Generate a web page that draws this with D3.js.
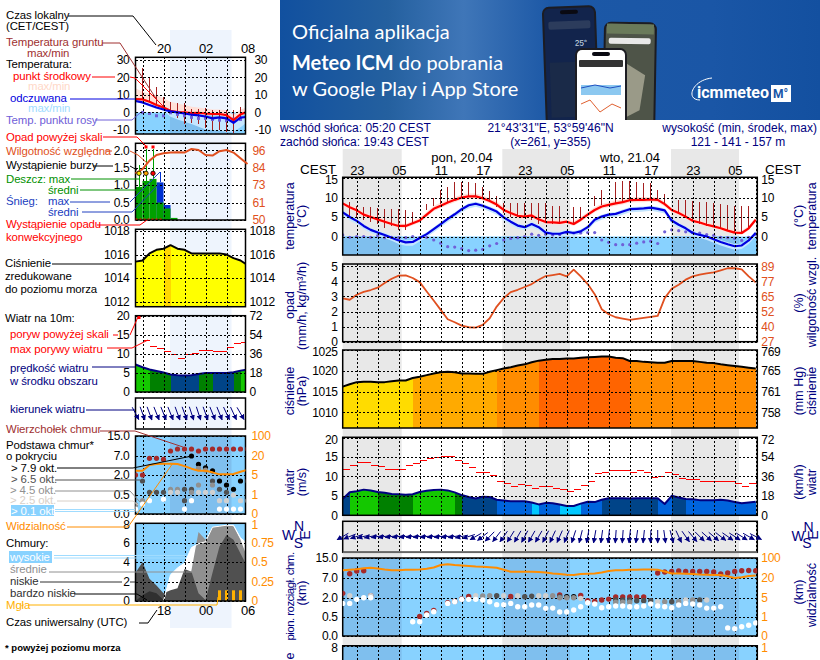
<!DOCTYPE html>
<html><head><meta charset="utf-8">
<script src="https://cdn.jsdelivr.net/npm/d3@7"></script>
<style>
html,body{margin:0;padding:0;background:#fff;overflow:hidden}
svg{display:block;font-family:"Liberation Sans",Arial,sans-serif;font-size:12px}
.tk text{font-size:12px;letter-spacing:-.3px}
</style></head><body>
<svg id="c" width="820" height="660"></svg>
<script>
// ===== main meteogram series (hourly, index 0 = 21:00 CEST) =====
const tempMid=[8.5,7.5,6.7,5.6,5,4.4,3.8,3.2,2.7,2.7,3.4,4.1,5.6,7.1,7.9,8.7,9.4,10,10.3,10.3,9.8,9.1,8.2,6.8,6,5.3,5.1,5.4,4.4,3.7,3.6,3.5,3.8,3.2,4.3,5.6,6.8,7.7,8.1,8.5,8.8,9.3,9.4,9.4,9.5,9.4,8.3,6.8,6,5.1,4,3.6,3,2.6,2.1,1.5,1,.9,2.1,4.3];
const tempHigh=[9,8.1,7.3,6.3,5.6,5,4.4,3.8,3.3,3.3,4,4.8,6.3,7.8,8.7,9.4,10.1,10.7,11,11,10.5,9.8,8.9,7.6,6.7,6,5.8,6,5.1,4.4,4.2,4.2,4.4,3.9,5,6.3,7.5,8.4,8.8,9.2,9.5,10,10.1,10.1,10.1,10,8.9,7.4,6.6,5.7,4.6,4.2,3.6,3.2,2.7,2.1,1.6,1.5,2.7,4.9];
const tempLow=[8,6.9,6.2,5.1,4.5,3.9,3.3,2.7,2.2,2.2,2.9,3.6,5,6.5,7.3,8.1,8.8,9.5,9.7,9.7,9.2,8.5,7.6,6.2,5.4,4.7,4.5,4.9,3.9,3.2,3.1,3,3.3,2.7,3.8,5,6.2,7.1,7.5,7.9,8.2,8.7,8.8,8.8,8.9,8.8,7.7,6.2,5.4,4.6,3.5,3.1,2.5,2.1,1.6,1,.5,.4,1.6,3.8];
const feelMid=[6.2,5,4,2.7,1.7,1,.4,-.3,-1,-1.5,-1.4,-.4,.6,1.9,3.2,4.5,5.7,7,8,8.4,7.9,7.2,6.4,4.9,3.8,2.8,2.4,3.2,2.4,1,.7,.7,1.2,.9,1.3,2.4,4.3,5.1,5.6,5.8,6.4,7,7.1,7.2,7.4,7.1,6.7,4.1,3,2.1,.9,.4,0,-.7,-1.4,-2,-2.5,-2.3,-1,.9];
const feelHigh=[6.7,5.5,4.5,3.2,2.2,1.5,.9,.2,-.5,-1,-.9,.1,1.1,2.4,3.7,5,6.2,7.5,8.5,8.9,8.4,7.7,6.9,5.4,4.3,3.3,2.9,3.7,2.9,1.5,1.2,1.2,1.7,1.4,1.8,2.9,4.8,5.6,6.1,6.3,6.9,7.5,7.6,7.7,7.9,7.6,7.2,4.6,3.5,2.6,1.4,.9,.5,-.2,-.9,-1.5,-2,-1.8,-.5,1.4];
const feelLow=[5.4,4.1,3.2,1.9,.9,.2,-.4,-1.1,-1.9,-2.4,-2.4,-1.3,-.2,1.1,2.4,3.7,4.9,6.2,7.2,7.6,7.1,6.4,5.6,4.1,3,2,1.6,2.4,1.6,.2,-.1,-.1,.4,.1,.5,1.6,3.5,4.3,4.8,5,5.6,6.2,6.3,6.4,6.6,6.3,5.9,3.3,2.2,1.3,.1,-.4,-.9,-1.6,-2.3,-2.9,-3.4,-3.2,-1.9,.1];
const dewPoint=[.4,-.2,0,0,-.2,.2,-.3,-.2,-.3,-.3,0,-.3,-.2,-.9,-1.7,-2.6,-2.7,-3.1,-3.6,-3.5,-3.3,-2.4,-1.8,-.9,-.5,-.3,0,.6,.3,.6,.4,.5,1,.9,.9,1,1,-.9,-1.5,-2.1,-2.1,-2.1,-1.7,-1.4,-1.2,-1.8,1.2,1.7,1.5,1.2,1,.9,.5,.3,-.2,-.3,-.5,-1,-.2,.6];
const groundMax=[null,8.9,7.9,7.5,7.5,7.3,7,7,7,6.7,6.4,null,8.4,9.8,12,12.8,13.9,13.9,13.9,13.7,12.6,11.7,10.3,8.7,8.7,8.5,8.5,8.5,8.5,8.5,7.9,7.9,null,7.5,7.5,null,10.4,12,null,14,14.3,14.3,13.9,13.7,13.7,12,10.9,null,9.4,9.4,9,8.8,8.8,8.5,8.4,8.1,7.9,7.9,7.9,null];
const groundMin=[null,4.7,4.7,4.3,3.7,3.2,2.1,2.6,1.7,1.7,3.2,null,6.7,7.7,8.4,8.7,9.4,10.1,10.4,10.4,9.8,9,7.5,6,5.1,5,5.1,4.3,3.2,3.4,3.2,3.2,null,3.4,4.3,null,7.9,8.1,null,8.5,8.9,9.4,9.4,9.4,9.5,9.4,8.1,null,6,4.7,4,3.2,2.7,2.4,1.9,1.3,.9,.9,2.1,null];
const humidity=[62.6,61.5,65.6,68,69.5,71.4,75.2,78.8,81.3,81.6,79.4,76,68.3,60.9,53.2,45.5,43,40.2,38.9,38.6,40.8,46.3,55.9,62.8,67.8,69.7,72,74.4,78,81,81.8,82.7,80.7,86.3,80.7,74.4,66.1,53.7,49.6,47.1,46,44.9,45.7,46.6,47.4,48.2,62.8,70.5,73.9,78,80.7,82.1,83.2,84,85.7,87.4,87.4,86.5,80.7,75.8];
const pressure=[1016.2,1016.8,1017.3,1017.4,1017.4,1017.3,1017.3,1017.5,1017.7,1017.7,1018.3,1018.6,1019,1019.4,1019.7,1019.8,1019.7,1019.4,1019.4,1019.3,1019.3,1019.8,1020.2,1020.6,1020.9,1021.3,1021.6,1022.1,1022.5,1022.7,1022.9,1022.9,1023,1023,1023.2,1023.3,1023.4,1023.5,1023.5,1023.2,1023.1,1022.4,1022.4,1022.2,1022.1,1022,1022,1022.4,1022.4,1022.4,1022.4,1022.2,1022,1021.9,1021.6,1021.4,1021.2,1021,1020.8,1020.6];
const pressureBreaks=[1018,1020,1022.5];
const pressureColors=["#ffdc00","#ffaa00","#ff8c00","#ff6400"];
const windSpeed=[4.2,5.9,6.2,6.6,6.4,6,5.8,5.5,5.4,5.3,5.4,6,6.3,6.5,6.6,6.4,5.9,5.2,4.7,4.3,4.8,4.7,4,3.8,3.6,3.6,3.6,3.3,2.8,3.2,3.1,2.8,2.4,2.4,3,3.5,3.4,4,4.4,4.4,4.4,4.3,4.4,4.4,4.4,4.4,2.9,5,4.6,4.2,4.1,3.9,3.9,3.9,4,3.8,3.4,3.1,3.3,3.5];
const windClass=[2,4,4,4,4,3,3,3,3,3,4,4,4,4,4,4,3,2,2,2,2,2,1,1,1,1,1,0,1,1,1,0,0,0,1,1,1,2,2,2,2,2,2,2,2,1,1,2,2,1,1,1,1,1,1,1,1,1,1,1];
const windColors=["#00c8ff","#0064dc","#004488","#008000","#14c800"];
const windGust=[11.9,12.9,13.7,13.7,12.9,12.6,11.9,11.9,11.9,12.9,13.3,14,14.7,14.8,15.2,15,14.2,13.3,12.3,11.1,10.9,10.3,8.6,8.3,7.5,8,7.6,7,7.3,7.3,7,6.7,6.2,6.7,7.6,8.8,10.7,11.1,11.4,11.4,11.4,11.1,11.4,10.9,9.8,10.1,10.9,10.6,9.4,9.1,9.1,8.8,8.8,8.8,8.8,8.8,8.2,7.5,8.1,8.1];
const windDir=[60,68,72,76,78,80,80,81,81,82,82,82,82,82,82,82,80,78,72,60,52,44,38,35,32,30,28,30,30,27,25,24,22,18,14,10,10,8,6,4,4,6,8,6,2,0,352,345,335,325,320,315,312,310,308,305,303,302,300,297];
const visibility=[51,53,55,59,61,58,54,51,51,53,53,54,57,62,72,75,72,70,68,66,65,63,61,53,45,45,45,45,44,42,38,36,33,32,36,37,38,42,48,51,51,53,53,54,54,53,46,38,38,37,36,34,33,32,32,27,20,23,28,30];
const baseTop=[[0,3.1],[1,8.7],[2,9.8],[3,9.9],[4,2.5],[11,.52],[12,.75],[13,1],[15,1.6],[16,1.7],[17,1.9],[18,2.3],[24,2.3],[31,2.7],[34,2.6],[35,1.76],[36,1.71],[37,1.82],[38,1.89],[39,2.2],[40,2.2],[41,2.2],[42,2.2],[43,2.2],[45,9],[46,9.4],[47,9.6],[48,9.8],[49,9.6],[50,9.6],[51,9.6],[52,9.6],[53,9.4],[54,8.6],[55,9],[56,9.6],[57,9.9],[58,10],[59,9.9]];
const baseBlack=[[32,2.25],[33,2.25]];
const baseDark=[[22,2.5],[26,2.25],[27,2.4],[31,2.25],[39,1.82],[40,1.82],[41,1.82],[42,1.76],[43,1.76],[44,1.76],[47,1.68],[51,1.82]];
const baseMid=[[20,2.45],[21,2.5],[30,2.5],[31,2],[32,2],[33,2],[39,1.65],[40,1.65],[41,1.65],[46,1.68],[48,1.68],[50,1.82]];
const baseLight=[[1,2.5],[4,2.5],[19,2.5],[23,2.5],[25,2.5],[28,2.5],[29,2.5],[34,1.95],[45,1.68],[49,1.82],[52,1.82]];
const baseWhite=[[0,1.55],[1,1.55],[2,1.87],[3,2],[4,2],[10,.37],[11,.37],[12,.63],[13,.89],[15,1.55],[16,1.68],[17,1.87],[18,1.87],[19,1.87],[20,1.82],[21,1.68],[22,1.45],[23,1.45],[24,1.55],[25,1.29],[26,1.29],[27,1.42],[28,1.42],[29,1.16],[30,1.18],[31,.87],[32,.87],[33,1.03],[34,1.29],[35,1.6],[36,1.5],[37,1.21],[38,1.29],[39,1.34],[40,1.34],[41,1.29],[42,1.29],[43,1.34],[44,1.5],[45,1.34],[46,1.29],[47,1.21],[48,1.42],[49,1.55],[50,1.5],[51,1.42],[52,1.18],[53,1.18],[54,1.29],[55,.21],[56,.19],[57,.24],[58,.28],[59,.34]];
const mainHourTicks=[2,8,14,20,26,32,38,44,50,56];
const mainHourLabels=["23","05","11","17","23","05","11","17","23","05"];
const baseKm=[0,.5,2,7,15];
const visKm=[0,1,5,20,100];
// ===== legend meteogram series (hourly, index 0 = 16:00 local) =====
const lTemp=[7.6,7.4,6.1,4.2,2.8,.9,.2,0,-.4,-.2,-.6,-.9,-.9,-1.5,-4.4,-1.1,.4];
const lTempHigh=[13.7,11.8,10.8,9.9,8,6.1,5.1,4.2,3.2,2.8,2.3,1.7,1.7,1.3,-1.5,1.7,3];
const lTempLow=[6.8,6.5,5.2,3.3,1.8,0,-.7,-.9,-1.3,-1.1,-1.5,-1.8,-1.8,-2.4,-5.3,-2,-.5];
const lFeel=[6.5,5.7,4.2,2.8,1.7,.6,0,-.6,-1.3,-1.7,-2.3,-3.4,-2.8,-3.4,-5.9,-3,-2.5];
const lFeelHigh=[7,6.3,4.8,3.4,2.3,1,.4,-.2,-.8,-1.1,-1.7,-2.8,-2.2,-2.8,-5.3,-2.4,-1.9];
const lFeelLow=[6,5,3.4,2,.9,-2.5,-4,-5.3,-6.6,-8.2,-9.7,-10,-10.4,-11,-11,-8.5,-5.3];
const lDew=[null,0,-.6,-1.9,-1.9,-.2,-1.1,-1.9,-2.8,-3.4,-3.4,-4,-4.4,-4.7,-3.8,-4,null];
const lGroundMax=[null,25,19.4,14.6,8.9,6.1,5.1,5.1,1.7,1.7,2.3,1.3,1.3,1.3,1.3,3.2,null];
const lGroundMin=[null,7,6,4.2,1.3,-.6,-3.4,-6.6,-6.3,-6.6,-9,-10,-10,-11,-11.6,-3.4,null];
const lHumidity=[80.8,83.5,89.2,92.9,94,94.5,94.7,94.5,96.9,96.2,92.9,92.5,95.4,96.2,94.5,90.7,87];
const lRain=[.95,1.12,1.18,.5,.33,.06];
const lSnowTop=[0,0,0,1.08,.43,0];
const lRainMax=[1.58,2.05,2.05];
const lSnowMax=[[3,1.39]];
const lOverScale=[1,2];
const lThunder=["#ffe600","#ffa500","#ff0000"];
const lPressure=[1015.4,1015.5,1016.1,1016.4,1016.5,1016.8,1016.5,1016.4,1016.1,1016.1,1016.1,1016.1,1016.1,1016,1015.7,1015.5,1015.1];
const lWind=[7.2,6.5,5.9,5.5,5.1,4.6,4.4,4.3,4.4,4.7,5,5,5,5,5.2,5.6,5.9];
const lWindClass=[4,4,3,3,3,2,2,2,2,3,3,2,2,2,3,4];
const lGust=[null,13.6,11.8,11.5,10.7,9.7,8.9,9.9,10.1,10.9,10.9,10.7,10.7,11.7,12.8,13];
const lWindDir=[332,340,340,338,338,338,340,340,342,342,340,338,338,335,335,330];
const lVis=[8.4,8.4,12.9,13.7,13.9,13.9,13.7,12,10,8.4,8.4,7.1,5.5,5.5,5.8,7.6,9];
const lTop=[[0,2],[1,2],[2,6.4],[3,6.4],[4,6.1],[5,9],[6,9.8],[7,9.8],[8,9.8],[9,9],[10,9.8],[11,9.8],[12,9.8],[13,9.8],[14,9.8],[15,9.8],[16,9.8]];
const lBlack=[[8,7],[9,4.8],[10,3.9],[11,3.1],[12,1.55],[13,1.25],[14,.93],[15,1.55]];
const lDark=[[1,1.55],[2,.7],[3,.7],[4,.7],[7,.93],[8,.93],[7,.35],[12,.93],[13,.7],[11,1.55],[16,1.55]];
const lMid=[[0,.24],[1,.35],[5,.93],[6,.93],[9,1.25],[8,.7],[11,1.25],[10,3.3],[9,3.75]];
const lLight=[[5,.7],[6,.7],[9,.7],[10,.7],[11,.7],[12,.35],[13,.35],[14,.5],[15,.35],[16,.35]];
const lWhite=[[0,.13],[1,.26],[2,.35],[4,.39],[7,.13],[8,.35],[12,.13],[13,.13],[14,.13],[15,.13]];
const lCloudHigh=[0,0,0,0,0,2.7,3.4,3.9,5.5,5.9,6.1,7.6,7.7,7.8,7.8,6.5,5.9];
const lCloudMid=[0,0,0,0,0,0,0,0,3.2,7.1,6.3,7.6,7.7,7.8,7.7,6.3,4.4];
const lCloudLow=[2.9,4,2.3,1.6,.8,1.1,1.3,3.3,3,.8,.1,2.9,5.6,6.8,6.3,4.9,3.5];
const lCloudVeryLow=[0,.6,1,.8,.1,0,0,0,0,0,0,0,0,0,0,0,0];
const lFog=[[12,1.1],[13,1.1],[14,1.1],[15,1.1]];
const navy="#000080",hum="#e05020",orange="#ff8c00";
const sky="#88d2ff",skyNight="#7fbfee";

const svg=d3.select("#c");
const defs=svg.append("defs");
const grad=defs.append("linearGradient").attr("id","bn");
[[0,"#11509f"],[.2,"#24609f"],[.34,"#3f76b8"],[.5,"#1c58a6"],[.8,"#1a56a6"],[1,"#1350a0"]].forEach(s=>grad.append("stop").attr("offset",s[0]).attr("stop-color",s[1]));
const mk=defs.append("marker").attr("id","ah").attr("markerUnits","userSpaceOnUse").attr("viewBox","0 0 10 10").attr("refX",9).attr("refY",5).attr("markerWidth",5.5).attr("markerHeight",5.5).attr("orient","auto");
mk.append("path").attr("d","M0,0L10,5L0,10Z").attr("fill",navy);

// ----- background day/night -----
const xM=d3.scaleLinear([0,60],[342.7,762.7]);
const xL=d3.scaleLinear([0,16],[135.5,247.5]);
const mainNight=[[342.7,401.7],[502.3,570],[671,739]];
const legendNight=[[170,231.5]];
svg.selectAll(".nm").data(mainNight).join("rect").attr("x",d=>d[0]).attr("width",d=>d[1]-d[0]).attr("y",149).attr("height",511).attr("fill","#e8e8e8");
svg.selectAll(".nl").data(legendNight).join("rect").attr("x",d=>d[0]).attr("width",d=>d[1]-d[0]).attr("y",30).attr("height",598).attr("fill","#eef4fd");

// ----- helpers -----
function clipped(id,x0,x1,y0,y1){
  defs.append("clipPath").attr("id",id).append("rect").attr("x",x0).attr("y",y0).attr("width",x1-x0).attr("height",y1-y0);
  return svg.append("g").attr("clip-path",`url(#${id})`);
}
const line=(x,y)=>d3.line().defined(d=>d!=null).x((d,i)=>x(i)).y(d=>y(d));
function band(g,x,y,hi,lo,fill){
  g.append("path").attr("d",d3.area().x((d,i)=>x(i)).y0((d,i)=>y(lo[i])).y1(d=>y(d))(hi)).attr("fill",fill);
}
function cols(g,x,y,vals,color,base){
  for(let i=0;i<vals.length-1;i++){
    const pts=[[i,vals[i]],[i+1,vals[i+1]]];
    g.append("path").attr("d",d3.area().x(d=>x(d[0])).y0(base).y1(d=>y(d[1]))(pts)).attr("fill",color(i,vals)).attr("shape-rendering","crispEdges");
  }
}
function hbar(g,x,y,i,v,c){
  g.append("line").attr("x1",x(i)).attr("x2",x(i+1)).attr("y1",y(v)).attr("y2",y(v)).attr("stroke",c).attr("stroke-width",1).attr("shape-rendering","crispEdges");
}
function vbar(g,x,y,i,a,b,c){
  g.append("line").attr("x1",x(i)).attr("x2",x(i)).attr("y1",y(a)).attr("y2",y(b)).attr("stroke",c).attr("stroke-width",1).attr("shape-rendering","crispEdges");
}
function frame(o){
  const {x0,x1,y0,y1,y,ticks,fmt,right,rightColor,leftColor,gridX,x,padL,padR}=o;
  const w=x1-x0,h=y1-y0;
  const shift=o.topShift||0;
  if(ticks.length){
    const gg=svg.append("g").attr("transform",`translate(${x0},0)`).call(d3.axisLeft(y).tickValues(ticks.filter(t=>y(t)>=y0-1&&y(t)<=y1+1)).tickSize(-w).tickFormat(""));
    gg.select(".domain").remove();
    gg.selectAll("line").attr("stroke","#000").attr("stroke-dasharray","2,2").attr("shape-rendering","crispEdges");
  }
  const cid="v"+Math.round(x0)+"_"+Math.round(y0);
  const vg=clipped(cid,x0,x1,y0,y1).append("g").attr("transform",`translate(0,${y0})`).call(d3.axisTop(x).tickValues(gridX).tickSize(-(h)).tickFormat(""));
  vg.select(".domain").remove();
  vg.selectAll("line").attr("stroke","#000").attr("stroke-dasharray","2,2").attr("shape-rendering","crispEdges");
  if(o.open) svg.append("path").attr("d",`M${x0},660V${y0}H${x1}V660`).attr("fill","none").attr("stroke","#000").attr("stroke-width",1.5);
  else svg.append("rect").attr("x",x0).attr("y",y0).attr("width",w).attr("height",h).attr("fill","none").attr("stroke","#000").attr("stroke-width",1.5);
  if(ticks.length){
    const a=svg.append("g").attr("class","tk").attr("transform",`translate(${x0},0)`).call(d3.axisLeft(y).tickValues(ticks).tickSize(0).tickPadding(padL).tickFormat(fmt||(d=>d)));
    a.select(".domain").remove(); a.selectAll("text").attr("fill",leftColor||"#000").attr("font-family",'"Liberation Sans"');
    const b=svg.append("g").attr("class","tk").attr("transform",`translate(${x1},0)`).call(d3.axisRight(y).tickValues(ticks).tickSize(0).tickPadding(padR).tickFormat((d,i)=>right[i]));
    b.select(".domain").remove(); b.selectAll("text").attr("fill",rightColor||"#000").attr("font-family",'"Liberation Sans"');
    if(shift) [a,b].forEach(s=>s.selectAll("text").filter((d,i)=>i===0).attr("y",shift));
  }
}
const night=(g,bands,y0,y1)=>g.selectAll(null).data(bands).join("rect").attr("x",d=>d[0]).attr("width",d=>d[1]-d[0]).attr("y",y0).attr("height",y1-y0).attr("fill",skyNight);
function arrows(g,x,vals,cy,len){
  g.selectAll(null).data(vals).join("line")
    .attr("x1",(d,i)=>x(i)+len/2*Math.sin(d*Math.PI/180)).attr("y1",d=>cy-len/2*Math.cos(d*Math.PI/180))
    .attr("x2",(d,i)=>x(i)-len/2*Math.sin(d*Math.PI/180)).attr("y2",d=>cy+len/2*Math.cos(d*Math.PI/180))
    .attr("stroke",navy).attr("stroke-width",1).attr("marker-end","url(#ah)");
}
function dots(g,x,y,data,color,r){
  g.selectAll(null).data(data).join("circle").attr("cx",d=>x(d[0])).attr("cy",d=>y(d[1])).attr("r",r).attr("fill",color);
}
function stroke(g,d,c,w){g.append("path").attr("d",d).attr("fill","none").attr("stroke",c).attr("stroke-width",w).attr("stroke-linejoin","round");}
function temperature(g,x,y,hi,lo,fh,fl,y1,x1,nightBands){
  g.append("rect").attr("x",x(0)).attr("width",x1-x(0)).attr("y",y(0)).attr("height",y1-y(0)).attr("fill",sky);
  night(g.append("g"),nightBands,y(0),y1);
  band(g,x,y,hi,lo,"#ffe0d8");
  band(g,x,y,fh,fl,"#c4e6ff");
}
const vgM=d3.range(2,60,3), vgL=d3.range(1,17,3);
const x1M=757.3, x1L=245.5;

// ===== MAIN: temperature =====
{
 const y=d3.scaleLinear([-5,15],[256,178]);
 const g=clipped("m1",342.7,x1M,177.3,255);
 temperature(g,xM,y,tempHigh,tempLow,feelHigh,feelLow,255,x1M,mainNight);
 groundMax.forEach((v,i)=>{ if(v!=null) vbar(g,xM,y,i,v,groundMin[i],"#a52020"); });
 dots(g,xM,y,dewPoint.map((d,i)=>[i,d]),"#7060d8",1.6);
 stroke(g,line(xM,y)(tempMid),"#f00",2.2);
 stroke(g,line(xM,y)(feelMid),"#0000e0",2.2);
 frame({x0:342.7,x1:x1M,y0:177.3,y1:255,y,ticks:[15,10,5,0],right:["15","10","5","0"],gridX:vgM,x:xM,padL:5,padR:4,topShift:2});
}
// ===== MAIN: humidity =====
{
 const yl=d3.scaleLinear([0,5],[341.7,266.3]);
 const yr=d3.scaleLinear([27,89],[341.7,266.3]);
 const g=clipped("m2",342.7,x1M,264,341.7);
 stroke(g,line(xM,yr)(humidity),hum,1.8);
 frame({x0:342.7,x1:x1M,y0:264,y1:341.7,y:yl,ticks:[5,4,3,2,1,0],right:["89","77","65","52","40","27"],rightColor:hum,gridX:vgM,x:xM,padL:5,padR:4});
}
// ===== MAIN: pressure =====
{
 const y=d3.scaleLinear([1010,1025],[412.3,350.3]);
 const col=d3.scaleThreshold(pressureBreaks,pressureColors);
 const g=clipped("m3",342.7,x1M,350,428);
 cols(g,xM,y,pressure,(i,v)=>col(v[i]),428);
 stroke(g,line(xM,y)(pressure),"#000",2);
 frame({x0:342.7,x1:x1M,y0:350,y1:428,y,ticks:[1025,1020,1015,1010],right:["769","765","761","758"],gridX:vgM,x:xM,padL:5,padR:4,topShift:1.5});
}
// ===== MAIN: wind =====
{
 const y=d3.scaleLinear([0,20],[515.3,437.5]);
 const g=clipped("m4",342.7,x1M,437.3,515.3);
 cols(g,xM,y,windSpeed,(i)=>windColors[windClass[i]],515.3);
 stroke(g,line(xM,y)(windSpeed),navy,2);
 windGust.forEach((v,i)=>hbar(g,xM,y,i,v,"#f00"));
 frame({x0:342.7,x1:x1M,y0:437.3,y1:515.3,y,ticks:[20,15,10,5,0],right:["72","54","36","18","0"],gridX:vgM,x:xM,padL:5,padR:4,topShift:2});
}
// ===== MAIN: direction =====
{
 frame({x0:342.7,x1:x1M,y0:521.3,y1:552.3,y:d3.scaleLinear(),ticks:[],right:[],gridX:vgM,x:xM});
 arrows(svg.append("g"),xM,windDir,536.5,13);
 svg.append("rect").attr("x",342.7).attr("y",551.5).attr("width",x1M-342.7).attr("height",1.5).attr("fill","#666");
}
// ===== MAIN: cloud base =====
{
 const y=d3.scaleLinear(baseKm,[636,616.7,597.7,578,558]);
 const yv=d3.scaleLinear(visKm,[636,616.7,597.7,578,558]);
 const g=clipped("m5",342.7,x1M,558,636);
 g.append("rect").attr("x",342.7).attr("y",558).attr("width",415).attr("height",78).attr("fill",sky);
 night(g.append("g"),mainNight,558,636);
 frame({x0:342.7,x1:x1M,y0:558,y1:636,y,ticks:[15,7,2,.5,0],fmt:d3.format(".1f"),right:["100","20","5","1","0"],rightColor:orange,gridX:vgM,x:xM,padL:5,padR:4});
 const t=svg.append("g").attr("clip-path","url(#m5)");
 dots(t,xM,y,baseTop,"#a52a2a",2.7);
 dots(t,xM,y,baseBlack,"#000",2.7);
 dots(t,xM,y,baseDark,"#505050",2.7);
 dots(t,xM,y,baseMid,"#909090",2.7);
 dots(t,xM,y,baseLight,"#d0d0d0",2.7);
 dots(t,xM,y,baseWhite,"#fff",2.7);
 stroke(t,line(xM,yv)(visibility),orange,2);
}
// ===== MAIN: clouds (cut by the window) =====
{
 const y=d3.scaleLinear([0,8],[723,645.7]);
 const g=clipped("m6",342.7,x1M,645.7,660);
 g.append("rect").attr("x",342.7).attr("y",645.7).attr("width",415).attr("height",15).attr("fill",sky);
 night(g.append("g"),mainNight,645.7,660);
 frame({x0:342.7,x1:x1M,y0:645.7,y1:723,y,ticks:[8],right:["1"],rightColor:orange,gridX:vgM,x:xM,padL:5,padR:4,open:true,topShift:2});
}

// ===== LEGEND: temperature =====
{
 const y=d3.scaleLinear([-10,30],[130,59.7]);
 const g=clipped("l1",135.5,x1L,57.3,134);
 temperature(g,xL,y,lTempHigh,lTempLow,lFeelHigh,lFeelLow,134,x1L,legendNight);
 lGroundMax.forEach((v,i)=>{ if(v!=null) vbar(g,xL,y,i,v,lGroundMin[i],"#a52020"); });
 g.selectAll(null).data(lDew.map((d,i)=>[i,d]).filter(d=>d[1]!=null)).join("rect").attr("x",d=>xL(d[0])-1.5).attr("y",d=>y(d[1])-1.5).attr("width",3).attr("height",3).attr("fill","#7060d8");
 stroke(g,line(xL,y)(lTemp),"#f00",2.2);
 stroke(g,line(xL,y)(lFeel),"#0000e0",2.2);
 frame({x0:135.5,x1:x1L,y0:57.3,y1:134,y,ticks:[30,20,10,0,-10],right:["30","20","10","0","-10"],gridX:vgL,x:xL,padL:6,padR:9});
}
// ===== LEGEND: rain =====
{
 const y=d3.scaleLinear([0,2],[220,150.3]);
 const yh=d3.scaleLinear([50,96],[220,150.3]);
 const g=clipped("l2",135.5,x1L,143.3,220);
 lSnowTop.forEach((v,i)=>{ if(v>0) g.append("rect").attr("x",xL(i)).attr("width",xL(i+1)-xL(i)).attr("y",y(v)).attr("height",y(0)-y(v)).attr("fill","#0030d0"); });
 lRain.forEach((v,i)=>g.append("rect").attr("x",xL(i)).attr("width",xL(i+1)-xL(i)).attr("y",y(v)).attr("height",y(0)-y(v)).attr("fill","#00a000"));
 frame({x0:135.5,x1:x1L,y0:143.3,y1:220,y,ticks:[2,1.5,1,.5,0],fmt:d3.format(".1f"),right:["96","84","73","61","50"],rightColor:hum,gridX:vgL,x:xL,padL:6,padR:7});
 const t=svg.append("g");
 lRainMax.forEach((v,i)=>t.append("line").attr("x1",xL(i+.5)).attr("x2",xL(i+.5)).attr("y1",y(v)).attr("y2",y(lRain[i])).attr("stroke","#00a000").attr("shape-rendering","crispEdges"));
 lSnowMax.forEach(d=>t.append("line").attr("x1",xL(d[0]+.5)).attr("x2",xL(d[0]+.5)).attr("y1",y(d[1])).attr("y2",y(lSnowTop[d[0]])).attr("stroke","#0030d0").attr("shape-rendering","crispEdges"));
 stroke(t,line(xL,yh)(lHumidity),hum,2);
 lOverScale.forEach(i=>t.append("rect").attr("x",xL(i+.5)-1.5).attr("y",145.5).attr("width",3).attr("height",3).attr("fill","#f00"));
 lThunder.forEach((c,i)=>t.append("circle").attr("cx",xL(i+.5)).attr("cy",y(1.34)).attr("r",2.2).attr("fill",c).attr("stroke","#000").attr("stroke-width",.8));
 t.append("line").attr("x1",xL(0)).attr("x2",xL(4)).attr("y1",219).attr("y2",219).attr("stroke","#f00").attr("stroke-dasharray","2,2").attr("stroke-width",1);
}
// ===== LEGEND: pressure =====
{
 const y=d3.scaleLinear([1012,1018],[301.7,231]);
 const col=d3.scaleThreshold([1016.7],["#ffff00","#ffd800"]);
 const g=clipped("l3",135.5,x1L,229.3,306.7);
 cols(g,xL,y,lPressure,(i,v)=>col(v[i+1]),306.7);
 stroke(g,line(xL,y)(lPressure),"#000",2);
 frame({x0:135.5,x1:x1L,y0:229.3,y1:306.7,y,ticks:[1018,1016,1014,1012],right:["1018","1016","1014","1012"],gridX:vgL,x:xL,padL:6,padR:4});
}
// ===== LEGEND: wind =====
{
 const y=d3.scaleLinear([0,20],[392,315.7]);
 const g=clipped("l4",135.5,x1L,315.7,392);
 cols(g,xL,y,lWind,(i)=>windColors[lWindClass[i]],392);
 stroke(g,line(xL,y)(lWind),navy,2);
 lGust.forEach((v,i)=>{ if(v!=null) hbar(g,xL,y,i,v,"#f00"); });
 frame({x0:135.5,x1:x1L,y0:315.7,y1:392,y,ticks:[20,15,10,5,0],right:["72","54","36","18","0"],gridX:vgL,x:xL,padL:6,padR:4});
 svg.append("rect").attr("x",137.5).attr("y",316).attr("width",3).attr("height",3).attr("fill","#f00");
}
// ===== LEGEND: direction =====
{
 frame({x0:135.5,x1:x1L,y0:398,y1:429,y:d3.scaleLinear(),ticks:[],right:[],gridX:vgL,x:xL});
 arrows(svg.append("g"),xL,lWindDir,413.4,14);
}
// ===== LEGEND: cloud base =====
{
 const y=d3.scaleLinear(baseKm,[514,495,475,456,436]);
 const yv=d3.scaleLinear(visKm,[514,495,475,456,436]);
 const g=clipped("l5",135.5,x1L,436,514);
 g.append("rect").attr("x",135.5).attr("y",436).attr("width",110).attr("height",78).attr("fill",sky);
 night(g.append("g"),legendNight,436,514);
 frame({x0:135.5,x1:x1L,y0:436,y1:514,y,ticks:[15,7,2,.5,0],fmt:d3.format(".1f"),right:["100","20","5","1","0"],rightColor:orange,gridX:vgL,x:xL,padL:6,padR:6});
 const t=svg.append("g").attr("clip-path","url(#l5)");
 dots(t,xL,y,lTop,"#a52a2a",2.6);
 dots(t,xL,y,lBlack,"#000",2.6);
 dots(t,xL,y,lDark,"#505050",2.6);
 dots(t,xL,y,lMid,"#909090",2.6);
 dots(t,xL,y,lLight,"#d0d0d0",2.6);
 dots(t,xL,y,lWhite,"#fff",2.6);
 stroke(t,line(xL,yv)(lVis),orange,2);
}
// ===== LEGEND: clouds =====
{
 const y=d3.scaleLinear([0,8],[601,523.3]);
 const g=clipped("l6",135.5,x1L,523.3,601);
 g.append("rect").attr("x",135.5).attr("y",523.3).attr("width",110).attr("height",78).attr("fill",sky);
 const ar=d3.area().x((d,i)=>xL(i)).y0(601).y1(d=>y(d));
 g.append("path").attr("d",ar(lCloudHigh)).attr("fill","#fff");
 g.append("path").attr("d",ar(lCloudMid)).attr("fill","#909090");
 g.append("path").attr("d",ar(lCloudLow)).attr("fill","#505050");
 g.append("path").attr("d",ar(lCloudVeryLow)).attr("fill","#303030");
 stroke(g,line(xL,y)(lCloudHigh),"#fff",1);
 g.selectAll(null).data(lFog).join("rect").attr("x",d=>xL(d[0])-1.5).attr("width",3).attr("y",d=>y(d[1])).attr("height",d=>601-y(d[1])).attr("fill","#ffb000");
 frame({x0:135.5,x1:x1L,y0:523.3,y1:601,y,ticks:[8,6,4,2,0],right:["1","0.75","0.5","0.25","0"],rightColor:orange,gridX:vgL,x:xL,padL:6,padR:6,topShift:1.5});
}
// ----- time labels -----
function hourAxis(x,yPos,vals,labels){
  const a=svg.append("g").attr("class","tk").attr("transform",`translate(0,${yPos})`).call(d3.axisTop(x).tickValues(vals).tickSize(0).tickPadding(0).tickFormat((d,i)=>labels[i]));
  a.select(".domain").remove();
  a.selectAll("text").attr("fill","#000").style("font-size","13px");
}
hourAxis(xM,175,mainHourTicks,mainHourLabels);
hourAxis(xL,53,[4,10,16],["20","02","08"]);
hourAxis(xL,615,[4,10,16],["18","00","06"]);

// ----- texts -----
function T(s,x,y,c,o={}){
  const t=svg.append("text").text(s).attr("x",x).attr("y",y).attr("dy",".35em").attr("fill",c);
  if(o.a) t.attr("text-anchor",o.a);
  if(o.s) t.style("font-size",o.s+"px");
  if(o.w) t.attr("font-weight",o.w);
  if(o.ls) t.style("letter-spacing",o.ls+"px");
  if(o.rot) t.attr("transform",`rotate(-90 ${x} ${y})`);
  return t;
}
const brown="#a03030",slate="#7060d8",green="#009000",snow="#2040c0",red="#f00";
const legendText=[
["Czas lokalny",6,15,"#000"],["(CET/CEST)",6,26,"#000"],
["Temperatura gruntu",6,42,brown],["max/min",27,53,brown],["Temperatura:",6,64,"#000"],
["punkt środkowy",13,76,red],["max/min",28,86,"#ffd8c8"],["odczuwana",10,98,"#0000e0"],["max/min",28,108,"#a0dcff"],
["Temp. punktu rosy",6,120,slate],["Opad powyżej skali",6,137,red],["Wilgotność względna",6,151,hum],
["Wystąpienie burzy",6,165,"#000"],["Deszcz: max",6,179,green],["średni",48,190,green],["Śnieg:",6,201,snow],["max",48,201,snow],["średni",48,212,snow],
["Wystąpienie opadu",6,224,red],["konwekcyjnego",6,237,red],
["Ciśnienie",5,263,"#000"],["zredukowane",5,276,"#000"],["do poziomu morza",5,289,"#000"],
["Wiatr na 10m:",5,318,"#000"],["poryw powyżej skali",10,334,red],["max porywy wiatru",10,349,red],
["prędkość wiatru",10,368,navy],["w środku obszaru",10,381,navy],["kierunek wiatru",10,409,navy],
["Wierzchołek chmur",6,429,brown],["Podstawa chmur*",6,445,"#000"],["o pokryciu",6,456,"#000"],
["> 7.9 okt.",11,468,"#000"],["> 6.5 okt.",11,479,"#505050"],["> 4.5 okt.",10,490,"#909090"],["> 2.5 okt.",10,500,"#d8d0c8"]
];
const legendText2=[
["Widzialność",6,526,orange],["Chmury:",6,543,"#000"],["średnie",10,569,"#909090"],["niskie",10,581,"#303030"],["bardzo niskie",10,593,"#303030"],["Mgła",6,605,"#ffb000"],["Czas uniwersalny (UTC)",6,622,"#000"]
];
const leaders=[
["#000",[[68,16],[133,16],[156,45]]],
[brown,[[102,43],[120,43],[157,100]]],
[red,[[92,77],[115,77]]],[red,[[130,77],[135,78],[167,110]]],
["#0000e0",[[70,99],[135,99]]],
[slate,[[95,120],[132,120],[140,113]]],
[red,[[103,137],[137,137],[147,147]]],
[hum,[[105,151],[112,151]]],[hum,[[130,151],[138,155],[147,163]]],
["#000",[[93,166],[113,166]]],["#000",[[130,166],[137,170]]],
[green,[[71,179],[140,179]]],[green,[[80,190],[143,190]]],
[snow,[[70,202],[110,202]]],[snow,[[130,202],[160,172]]],
[snow,[[82,212],[132,212],[160,183]]],
[red,[[97,225],[140,225],[147,220]]],
["#000",[[52,264],[132,264]]],
[red,[[113,335],[118,335]]],[red,[[130,335],[138,317]]],
[red,[[107,348],[132,348],[148,340]]],
[navy,[[92,367],[135,367]]],[navy,[[86,410],[135,410]]],
[brown,[[100,431],[135,431],[183,447]]],
["#000",[[57,468],[133,468],[192,456]]],
["#505050",[[55,480],[140,480]]],
["#909090",[[55,491],[130,491],[140,502]]],
["#d8d0c8",[[57,501],[133,501],[138,505]]],
["#a0dcff",[[55,509.5],[135,509.5]]],["#a0dcff",[[55,511.5],[135,511.5]]],
[orange,[[67,527],[128,527],[173,463]]],
["#a0dcff",[[54,555.5],[186,555.5]]],["#a0dcff",[[54,558],[186,558]]],
["#909090",[[49,572],[193,572]]],
["#303030",[[40,582],[122,582]]],["#303030",[[130,582],[135,582]]],
["#000",[[74,594],[137,594],[147,600]]],
["#ffb000",[[28,605],[217,605],[218,597]]],
["#000",[[139,623],[148,623],[157,610]]]
];
const lg=d3.line();
leaders.forEach(l=>svg.append("path").attr("d",lg(l[1])).attr("fill","none").attr("stroke",l[0]).attr("stroke-width",1));
const legendOpts={s:11.4,ls:-.1};
legendText.concat(legendText2).forEach(d=>T(d[0],d[1],d[2],d[3],legendOpts));
svg.append("rect").attr("x",11).attr("y",505).attr("width",43).attr("height",11).attr("fill","#88d2ff");
T("> 0.1 okt.",11,511,"#fff",legendOpts);
svg.append("rect").attr("x",9).attr("y",551).attr("width",43).attr("height",12).attr("fill","#88d2ff");
T("wysokie",10,557,"#fff",legendOpts);
T("* powyżej poziomu morza",5,648,"#000",{s:9.5,w:"bold"});

// ----- header / axis titles -----
T("wschód słońca: 05:20 CEST",280,128,navy);
T("zachód słońca: 19:43 CEST",280,142,navy);
T("21°43'31\"E, 53°59'46\"N",550.5,128,navy,{a:"middle"});
T("(x=261, y=355)",550.5,142,navy,{a:"middle"});
T("wysokość (min, środek, max)",817,128,navy,{a:"end"});
T("121 - 141 - 157 m",738,142,navy,{a:"middle"});
T("pon, 20.04",462,157,"#000",{a:"middle",s:13});
T("wto, 21.04",630,157,"#000",{a:"middle",s:13});
T("CEST",336,169,"#000",{a:"end",s:13.5});
T("CEST",765,169,"#000",{s:13.5});
const titles=[
["temperatura",290,216],["(°C)",302,216],["(°C)",799,216],["temperatura",812,216],
["opad",290,305],["(mm/h, kg/m³/h)",302,306],["(%)",799,303],["wilgotność wzgl.",812,302],
["ciśnienie",290,391],["(hPa)",302,391],["(mm Hg)",799,391],["ciśnienie",812,391],
["wiatr",290,482],["(m/s)",302,482],["(km/h)",799,482],["wiatr",812,482],
["(km)",302,593],["(km)",799,592],["widzialność",812,595]
];
titles.forEach(d=>T(d[0],d[1],d[2],navy,{a:"middle",rot:true,s:12.5}));
T("pion. rozciągł. chm.",290,596.5,navy,{a:"middle",rot:true,s:11.5,ls:-.55});
T("e",290,656,navy,{a:"middle",rot:true,s:12.5});
[[288.5,535,"W"],[299,526,"N"],[298.5,543,"S"],[798,536,"W"],[808.5,527,"N"],[807,543,"S"]].forEach(d=>T(d[2],d[0],d[1],navy,{a:"middle",s:14}));
[[305.5,535],[813,535]].forEach(d=>T("E",d[0],d[1],navy,{a:"middle",s:14,rot:true}));

// ----- banner (decorative image in the reference) -----
const ban=svg.append("g");
ban.append("rect").attr("x",280).attr("y",0).attr("width",540).attr("height",120).attr("fill","url(#bn)");
function phone(x,y,w,h,rot,body,screen){
  const p=ban.append("g").attr("transform",`rotate(${rot} ${x+w/2} ${y+h/2})`);
  p.append("rect").attr("x",x).attr("y",y).attr("width",w).attr("height",h).attr("rx",7).attr("fill",body);
  p.append("rect").attr("x",x+2).attr("y",y+2).attr("width",w-4).attr("height",h-4).attr("rx",5).attr("fill",screen);
  p.append("rect").attr("x",x+w/2-9).attr("y",y+4).attr("width",18).attr("height",4).attr("rx",2).attr("fill","#0a0a12");
  return p;
}
defs.append("clipPath").attr("id","bc").append("rect").attr("x",280).attr("y",0).attr("width",540).attr("height",120);
ban.attr("clip-path","url(#bc)");
const p1=phone(544,6,54,130,-2,"#1c1c22","#12244c");
p1.append("rect").attr("x",550).attr("y",21).attr("width",42).attr("height",8).attr("rx",2).attr("fill","#2c3c5c");
p1.append("text").text("25°").attr("x",576).attr("y",46).attr("fill","#dfe8f5").style("font-size","8px");
p1.append("rect").attr("x",550).attr("y",62).attr("width",42).attr("height",55).attr("fill","#1a2a48");
const p2=phone(603,22,53,120,1,"#1c1c22","#4e5448");
p2.append("rect").attr("x",606).attr("y",24).attr("width",47).attr("height",10).attr("fill","#6a7a5a");
p2.append("rect").attr("x",608).attr("y",38).attr("width",42).attr("height",6).attr("rx",2).attr("fill","#e8e8e8");
p2.append("path").attr("d","M620,60L645,75L640,110L625,118L615,85Z").attr("fill","#9a9a88");
const p3=phone(575,48,52,90,0,"#1c1c22","#fff");
p3.append("rect").attr("x",579).attr("y",60).attr("width",44).attr("height",7).attr("rx",1).attr("fill","#333");
p3.append("rect").attr("x",581).attr("y",85).attr("width",40).attr("height",10).attr("fill","#8cc8f0");
p3.append("path").attr("d","M581,88L595,85L610,88L621,86").attr("fill","none").attr("stroke","#2050c0");
p3.append("path").attr("d","M581,104L590,100L600,112L612,104L621,108").attr("fill","none").attr("stroke","#e06030");
const B=(s,x,y,o={})=>ban.append("text").attr("x",x).attr("y",y).attr("fill",o.c||"#fff").attr("font-family",o.f||"Lato").attr("font-weight",o.w||400).style("font-size",(o.s||20)+"px").text(s);
B("Oficjalna aplikacja",292,39);
const l2=B("",292,70);
l2.append("tspan").attr("font-weight",700).text("Meteo ICM");
l2.append("tspan").text(" do pobrania");
B("w Google Play i App Store",292,95.5);
B("icmmeteo",697,98,{s:16,w:700,f:"Roboto"});
ban.append("path").attr("d","M700,100C685,100 692,80 712,78").attr("fill","none").attr("stroke","#fff").attr("stroke-width",1);
ban.append("rect").attr("x",771).attr("y",85).attr("width",20).attr("height",17).attr("fill","#fff");
B("M°",773,98,{s:12,w:700,c:"#1a56a6",f:"Roboto"});
</script>
</body></html>
